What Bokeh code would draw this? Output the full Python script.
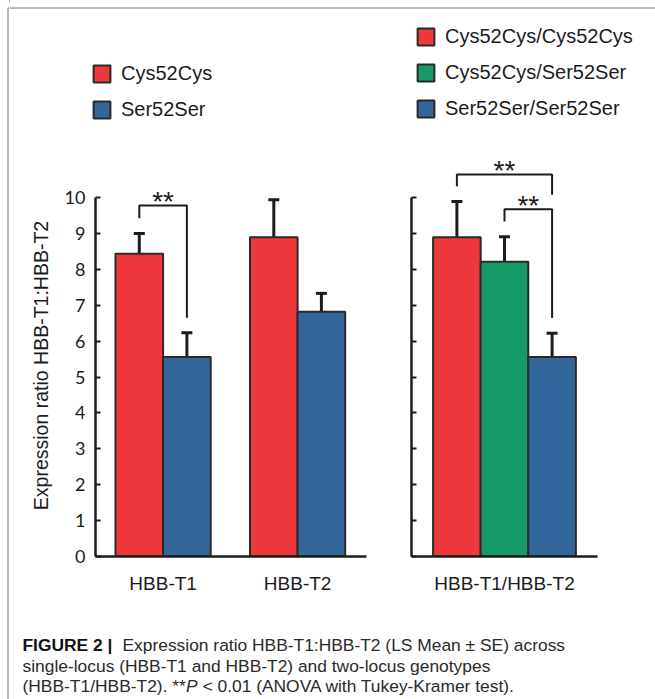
from bokeh.plotting import figure
from bokeh.models import (Range1d, FixedTicker, Legend, LegendItem, Whisker, TeeHead,
                          ColumnDataSource, Label, CustomLabelingPolicy)
from bokeh.layouts import column, row
from bokeh.embed import file_html
from bokeh.resources import INLINE

# ---------------- data ----------------
single_groups = ["HBB-T1", "HBB-T2"]
single_genotypes = ["Cys52Cys", "Ser52Ser"]
cys_mean = [8.43, 8.89]
cys_se = [0.57, 1.05]
ser_mean = [5.56, 6.82]
ser_se = [0.67, 0.51]

two_group = "HBB-T1/HBB-T2"
two_genotypes = ["Cys52Cys/Cys52Cys", "Cys52Cys/Ser52Ser", "Ser52Ser/Ser52Ser"]
two_mean = [8.89, 8.21, 5.56]
two_se = [1.00, 0.70, 0.66]

y_ticks = [0, 1, 2, 3, 4, 5, 6, 7, 8, 9, 10]
y_label = "Expression ratio HBB-T1:HBB-T2"
sig_text = "**"

caption_bold = "FIGURE 2 |"
caption_line1 = "Expression ratio HBB-T1:HBB-T2 (LS Mean \u00b1 SE) across"
caption_line2 = "single-locus (HBB-T1 and HBB-T2) and two-locus genotypes"
caption_line3a = "(HBB-T1/HBB-T2). **"
caption_line3b = "P"
caption_line3c = "< 0.01 (ANOVA with Tukey-Kramer test)."

# ---------------- style ----------------
RED, GREEN, BLUE = "#EE383B", "#159A67", "#33679C"
INK = "#1c1c1c"
FRAME_GREY = "#a3a3a3"
SANS = "Liberation Sans"
TICK_FONT = "Lato"

X_PX = 134.5            # px per x unit
BAR_W = 47.6 / X_PX
Y_PX = 35.9             # px per y unit
PLOT_H = 450
BOT_B = 44
GAP = 0.42              # bracket leg gap above error bar
STAR_DY = 0.112


def blank(p):
    p.xgrid.grid_line_color = None
    p.ygrid.grid_line_color = None
    p.outline_line_color = None
    p.background_fill_color = "white"
    p.border_fill_color = "white"


def style(p, show_ylabels):
    blank(p)
    for ax in (p.xaxis[0], p.yaxis[0]):
        ax.axis_line_color = INK
        ax.axis_line_width = 2.5
        ax.minor_tick_line_color = None
    ya = p.yaxis[0]
    ya.ticker = FixedTicker(ticks=y_ticks)
    ya.bounds = (0, 10)
    ya.major_tick_in = 5
    ya.major_tick_out = 0
    ya.major_tick_line_color = INK
    ya.major_tick_line_width = 2
    if show_ylabels:
        ya.major_label_text_font = TICK_FONT
        ya.major_label_text_font_size = "18px"
        ya.major_label_text_color = INK
        ya.major_label_standoff = 10
        ya.axis_label = y_label
        ya.axis_label_text_font = SANS
        ya.axis_label_text_font_size = "19.5px"
        ya.axis_label_text_font_style = "normal"
        ya.axis_label_text_color = INK
        ya.axis_label_standoff = 10
    else:
        ya.major_label_policy = CustomLabelingPolicy(code="return []")
        ya.major_label_standoff = 0
    xa = p.xaxis[0]
    xa.major_tick_line_color = None
    xa.major_label_text_font = SANS
    xa.major_label_text_font_size = "19px"
    xa.major_label_text_color = INK
    xa.major_label_standoff = 10


def add_bars(p, xs, means, ses, color):
    src = ColumnDataSource(dict(x=xs, top=means,
                                upper=[m + s for m, s in zip(means, ses)]))
    r = p.vbar(x="x", top="top", width=BAR_W, bottom=0, source=src,
               fill_color=color, line_color="#2a2a2a", line_width=2)
    w = Whisker(base="x", lower="top", upper="upper", source=src,
                line_color=INK, line_width=3, lower_head=None,
                upper_head=TeeHead(size=11, line_color=INK, line_width=3))
    p.add_layout(w)
    return r


def add_bracket(p, xa, xb, y_left, y_top, y_right):
    p.line(x=[xa, xa, xb, xb], y=[y_left, y_top, y_top, y_right],
           line_color=INK, line_width=2)
    p.add_layout(Label(x=(xa + xb) / 2, y=y_top + STAR_DY, text=sig_text,
                       text_font=SANS, text_font_size="28px", text_color=INK,
                       text_align="center", text_baseline="alphabetic"))


def bare_fig(w, h):
    p = figure(width=w, height=h, x_range=Range1d(0, w), y_range=Range1d(h, 0),
               min_border=0, min_border_left=0, min_border_right=0, min_border_top=0,
               min_border_bottom=0, x_axis_location=None, y_axis_location=None,
               output_backend="svg", toolbar_location=None)
    blank(p)
    return p


def key_legend(p, labels, colors, loc):
    # legend keys: one off-canvas proxy bar per genotype, styled like the bars
    rs = [p.vbar(x=[-10], top=[0], width=1, fill_color=c, line_color="#2a2a2a", line_width=2)
          for c in colors]
    p.add_layout(Legend(items=[LegendItem(label=g, renderers=[r]) for g, r in zip(labels, rs)],
                        location=loc, orientation="vertical",
                        glyph_width=21, glyph_height=21, label_standoff=9, spacing=13,
                        padding=0, margin=0, border_line_color=None,
                        background_fill_alpha=0, label_text_font=SANS,
                        label_text_font_size="20px", label_text_color=INK))


single_colors = [RED, BLUE]
two_colors = [RED, GREEN, BLUE]

# ---------------- left grey frame strip ----------------
strip = bare_fig(9, 699)
strip.line(x=[7.5, 7.5, 9], y=[699, 7.5, 7.5], line_color=FRAME_GREY, line_width=1.5)

# ---------------- legend band ----------------
figTop = bare_fig(646, 150)
figTop.line(x=[0, 646], y=[7.5, 7.5], line_color=FRAME_GREY, line_width=1.5)
key_legend(figTop, single_genotypes, single_colors, (82, 29))
key_legend(figTop, two_genotypes, two_colors, (406, 30))

# ---------------- left panel (single locus) ----------------
L_W, L_TOP = 376, 24
figL = figure(width=L_W, height=PLOT_H, min_border_left=86, min_border_right=0,
              min_border_top=L_TOP, min_border_bottom=BOT_B,
              x_range=Range1d(-0.5026, -0.5026 + 290 / X_PX),
              y_range=Range1d(0, (PLOT_H - L_TOP - BOT_B) / Y_PX),
              output_backend="svg", toolbar_location=None)
style(figL, True)
figL.xaxis[0].ticker = FixedTicker(ticks=list(range(len(single_groups))))
figL.xaxis[0].major_label_overrides = {i: g for i, g in enumerate(single_groups)}
figL.xaxis[0].bounds = (-0.5026, 1.512)

single_means = [cys_mean, ser_mean]
single_ses = [cys_se, ser_se]
xsL = []
for i in range(len(single_genotypes)):
    xs = [g + (i - 0.5) * BAR_W for g in range(len(single_groups))]
    xsL.append(xs)
    add_bars(figL, xs, single_means[i], single_ses[i], single_colors[i])

add_bracket(figL, xsL[0][0], xsL[1][0],
            cys_mean[0] + cys_se[0] + GAP, 9.78, ser_mean[0] + ser_se[0] + GAP)

# ---------------- right panel (two locus) ----------------
R_W, R_LEFT = 270, 26
figR = figure(width=R_W, height=PLOT_H, min_border_left=R_LEFT, min_border_right=0,
              min_border_top=0, min_border_bottom=BOT_B,
              x_range=Range1d(-0.6914, -0.6914 + (R_W - R_LEFT) / X_PX),
              y_range=Range1d(0, (PLOT_H - BOT_B) / Y_PX),
              output_backend="svg", toolbar_location=None)
style(figR, False)
figR.xaxis[0].ticker = FixedTicker(ticks=[0])
figR.xaxis[0].major_label_overrides = {0: two_group}
figR.xaxis[0].bounds = (-0.6914, 0.688)

xsR = [(i - 1) * BAR_W for i in range(len(two_genotypes))]
for i in range(len(two_genotypes)):
    add_bars(figR, [xsR[i]], [two_mean[i]], [two_se[i]], two_colors[i])

err_top = [m + s for m, s in zip(two_mean, two_se)]
inner_top = 9.67
add_bracket(figR, xsR[1], xsR[2], err_top[1] + GAP, inner_top, err_top[2] + GAP)
add_bracket(figR, xsR[0], xsR[2], err_top[0] + GAP, 10.64, inner_top + 0.41)

# ---------------- caption ----------------
figCap = bare_fig(646, 99)
CAP_FS = "17.4px"


def cap(x, y, text, style="normal", color="#2a2a2a"):
    figCap.add_layout(Label(x=x, y=y, text=text, text_font=SANS, text_font_size=CAP_FS,
                            text_font_style=style, text_color=color,
                            text_align="left", text_baseline="alphabetic"))


cap(13, 44, caption_bold, "bold", "#111111")
cap(113, 44, caption_line1)
cap(13, 65, caption_line2)
cap(13, 85.5, caption_line3a)
cap(176.4, 85.5, caption_line3b, "italic")
cap(193, 85.5, caption_line3c)

layout = row(strip,
             column(figTop,
                    row(column(figL, spacing=0), column(figR, spacing=0), spacing=0),
                    figCap, spacing=0),
             spacing=0)

open("out.html", "w").write(file_html(layout, INLINE))
